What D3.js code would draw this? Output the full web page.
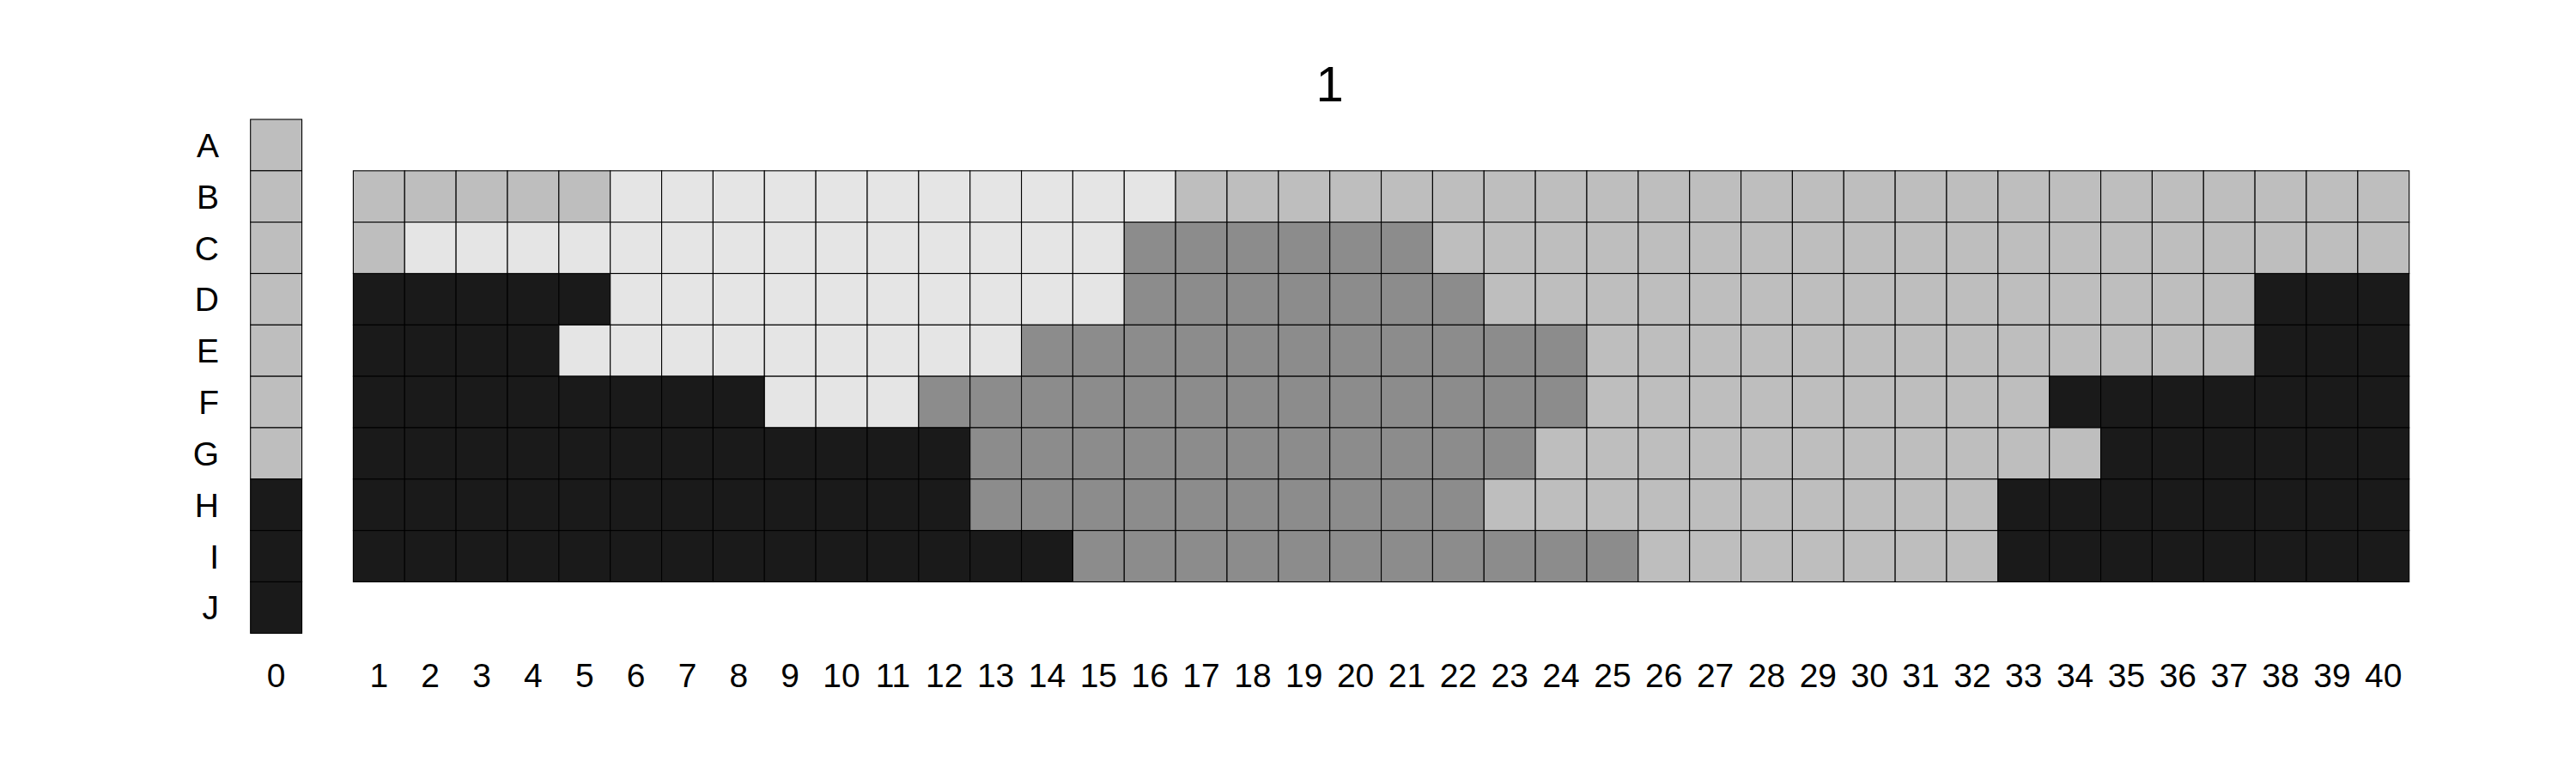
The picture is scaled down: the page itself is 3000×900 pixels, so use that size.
<!DOCTYPE html>
<html>
<head>
<meta charset="utf-8">
<script src="https://cdn.jsdelivr.net/npm/d3@7"></script>
<style>
  html, body { margin: 0; padding: 0; background: #ffffff; }
  svg { display: block; }
  text { font-family: "Liberation Sans", Arial, Helvetica, sans-serif; fill: #000; }
</style>
</head>
<body>
<svg id="chart" width="3000" height="900"></svg>
<script>
// ---- data ----
const title = "1";
const rowLabels = ["A", "B", "C", "D", "E", "F", "G", "H", "I", "J"];
const colLabels = ["0", "1", "2", "3", "4", "5", "6", "7", "8", "9", "10",
  "11", "12", "13", "14", "15", "16", "17", "18", "19", "20",
  "21", "22", "23", "24", "25", "26", "27", "28", "29", "30",
  "31", "32", "33", "34", "35", "36", "37", "38", "39", "40"];

// category codes: g = grey, w = light, m = medium, k = dark
const categories = ["g", "w", "m", "k"];
const categoryColors = ["#bebebe", "#e5e5e5", "#8c8c8c", "#1a1a1a"];

// column 0, rows A..J
const column0 = ["g", "g", "g", "g", "g", "g", "g", "k", "k", "k"];

// columns 1..40, rows B..I
const gridRows = ["B", "C", "D", "E", "F", "G", "H", "I"];
const rowB = "ggggg wwwwwwwwwww gggggggggggggggggggggggg";
const rowC = "g wwwwwwwwwwwwww mmmmmm ggggggggggggggggggg";
const rowD = "kkkkk wwwwwwwwww mmmmmmm ggggggggggggggg kkk";
const rowE = "kkkk wwwwwwwww mmmmmmmmmmm ggggggggggggg kkk";
const rowF = "kkkkkkkk www mmmmmmmmmmmmm ggggggggg kkkkkkk";
const rowG = "kkkkkkkkkkkk mmmmmmmmmmm ggggggggggg kkkkkk";
const rowH = "kkkkkkkkkkkk mmmmmmmmmm gggggggggg kkkkkkkk";
const rowI = "kkkkkkkkkkkkkk mmmmmmmmmmm ggggggg kkkkkkkk";
const gridValues = [rowB, rowC, rowD, rowE, rowF, rowG, rowH, rowI];

// ---- build cells ----
const cells = [];
column0.forEach((v, i) => cells.push({ col: 0, row: rowLabels[i], v }));
gridValues.forEach((s, ri) => {
  s.replace(/ /g, "").split("").forEach((v, ci) => {
    cells.push({ col: ci + 1, row: gridRows[ri], v });
  });
});

// ---- scales ----
// slot position: column 0 at slot 0, one empty slot, then columns 1..40
const slot = c => (c === 0 ? 0 : c + 1);
const x = d3.scaleLinear().domain([0, 42]).range([291.7, 2805.7]);
const y = d3.scaleBand().domain(rowLabels).range([139, 737.3]).padding(0);
const color = d3.scaleOrdinal().domain(categories).range(categoryColors);
const cw = x(1) - x(0);

const svg = d3.select("#chart");

svg.append("g")
  .selectAll("rect")
  .data(cells)
  .join("rect")
  .attr("x", d => x(slot(d.col)))
  .attr("y", d => y(d.row))
  .attr("width", cw)
  .attr("height", y.bandwidth())
  .attr("fill", d => color(d.v))
  .attr("stroke", "#000")
  .attr("stroke-width", 1.1);

// row labels
const fs = 39;
svg.append("g")
  .selectAll("text")
  .data(rowLabels)
  .join("text")
  .attr("x", 255)
  .attr("y", d => y(d) + y.bandwidth() / 2 + fs * 0.358)
  .attr("text-anchor", "end")
  .attr("font-size", fs)
  .text(d => d);

// column labels
svg.append("g")
  .selectAll("text")
  .data(colLabels)
  .join("text")
  .attr("x", d => x(slot(+d)) + cw / 2)
  .attr("y", 800)
  .attr("text-anchor", "middle")
  .attr("font-size", fs)
  .text(d => d);

// title
svg.append("text")
  .attr("x", (x(0) + x(42)) / 2)
  .attr("y", 118)
  .attr("text-anchor", "middle")
  .attr("font-size", 58)
  .text(title);
</script>
</body>
</html>
